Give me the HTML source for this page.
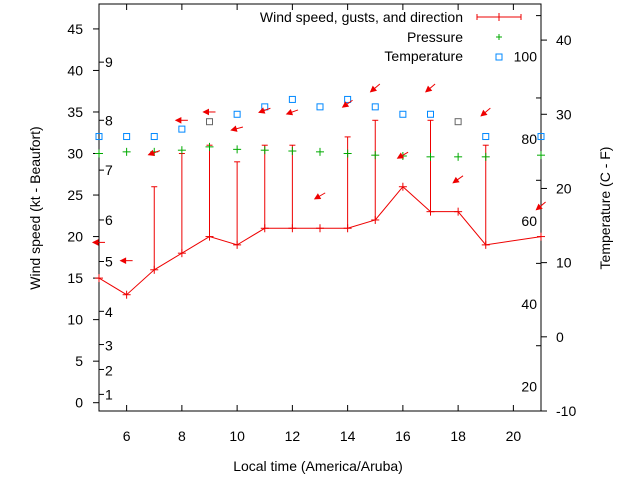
<!DOCTYPE html>
<html><head><meta charset="utf-8"><style>
html,body{margin:0;padding:0;background:#fff}
svg{display:block;font-family:"Liberation Sans",sans-serif}
</style></head><body>
<svg id="c" width="640" height="480" xmlns="http://www.w3.org/2000/svg">
<rect x="0" y="0" width="640" height="480" fill="#fff"/>
</svg>
<script>
const hours=[5,6,7,8,9,10,11,12,13,14,15,16,17,18,19,21];
const windSpeed=[15,13,16,18,20,19,21,21,21,21,22,26,23,23,19,20];
const gustHours=[7,8,9,10,11,12,14,15,17,19];
const gustValues=[26,30,31,29,31,31,32,34,34,31];
const pressure=[30,30.2,30.2,30.4,30.8,30.5,30.4,30.3,30.2,30,29.8,29.7,29.6,29.6,29.6,29.8];
const temperatureC=[27,27,27,28,29,30,31,32,31,32,31,30,30,29,27,27];
const arrowLevel=[19.3,17.1,30.1,34,35,33,35.2,35,24.9,36,37.9,29.8,37.9,26.9,35,23.7];
const arrowAngle=[180,180,200,180,180,195,200,200,210,215,220,210,220,215,220,220];
const xTicks=[6,8,10,12,14,16,18,20];
const yTicks=[0,5,10,15,20,25,30,35,40,45];
const tTicks=[-10,0,10,20,30,40];
const beaufortLabels=["1","2","3","4","5","6","7","8","9"];
const beaufortPos=[1,3.9,6.9,10.9,17,22,28,34,41];
const beaufortBounds=[1,4,7,11,17,22,28,34,41];
const fahrenheitLabels=["20","40","60","80","100"];
const fahrenheitPos=[-6.7,4.4,15.6,26.7,37.8];

const L=99,R=541,T=4,B=411;
const X=h=>L+(h-5)*(R-L)/16;
const Y=v=>B-(v+1)*(B-T)/49;
const YT=t=>B-(t+10)*(B-3)/55;
const svg=document.getElementById('c');
const NS='http://www.w3.org/2000/svg';
function mk(tag,a,p){const e=document.createElementNS(NS,tag);for(const k in a)e.setAttribute(k,a[k]);(p||svg).appendChild(e);return e;}
function txt(x,y,s,anchor,extra){const e=mk('text',Object.assign({x:x,y:y,'font-size':14,'text-anchor':anchor||'start',fill:'#000'},extra||{}));e.textContent=s;return e;}

const fr=mk('rect',{x:L,y:T,width:R-L,height:B-T,fill:'none',stroke:'#000','stroke-width':1});



xTicks.forEach(h=>{
  mk('line',{x1:X(h),x2:X(h),y1:B,y2:B-6,stroke:'#000'});
  mk('line',{x1:X(h),x2:X(h),y1:T,y2:T+6,stroke:'#000'});
  const t=txt(X(h),441,String(h),'middle');
  
  
});
yTicks.forEach(v=>{
  mk('line',{x1:L-6,x2:L,y1:Y(v),y2:Y(v),stroke:'#000'});
  const t=txt(83,Y(v)+5,String(v),'end');
  
  
});
beaufortBounds.forEach(v=>{
  mk('line',{x1:L,x2:L+5,y1:Y(v),y2:Y(v),stroke:'#000'});
});
tTicks.forEach(v=>{
  mk('line',{x1:R,x2:R+6,y1:YT(v),y2:YT(v),stroke:'#000'});
  const t=txt(556,YT(v)+5,String(v),'start');
  
  
});
beaufortLabels.forEach((s,i)=>{
  const t=txt(105,Y(beaufortPos[i])+5,s,'start');
  
  
});
fahrenheitLabels.forEach((s,i)=>{
  mk('line',{x1:R-5,x2:R,y1:YT(fahrenheitPos[i]+5.5),y2:YT(fahrenheitPos[i]+5.5),stroke:'#000'});
  const t=txt(537,YT(fahrenheitPos[i])+5,s,'end');
  
  
});

let t=txt(318,471,'Local time (America/Aruba)','middle');


t=txt(0,0,'Wind speed (kt - Beaufort)','middle',{transform:'translate(40,208) rotate(-90)'});


t=txt(0,0,'Temperature (C - F)','middle',{transform:'translate(610,208) rotate(-90)'});



gustHours.forEach((h,i)=>{
  const j=hours.indexOf(h);
  const g=mk('g',{stroke:'#e00','stroke-width':1});
  
  
  mk('line',{x1:X(h),x2:X(h),y1:Y(windSpeed[j]),y2:Y(gustValues[i])},g);
  mk('line',{x1:X(h)-3,x2:X(h)+3,y1:Y(gustValues[i]),y2:Y(gustValues[i])},g);
});
const wl=mk('polyline',{points:hours.map((h,i)=>X(h)+','+Y(windSpeed[i])).join(' '),fill:'none',stroke:'#e00','stroke-width':1});


hours.forEach((h,i)=>{
  const g=mk('g',{stroke:'#e00'});
  
  
  mk('line',{x1:X(h)-4,x2:X(h)+4,y1:Y(windSpeed[i]),y2:Y(windSpeed[i])},g);
  mk('line',{x1:X(h),x2:X(h),y1:Y(windSpeed[i])-4,y2:Y(windSpeed[i])+4},g);
});
hours.forEach((h,i)=>{
  const g=mk('g',{stroke:'#0a0'});
  
  
  const y=Y(pressure[i]);
  mk('line',{x1:X(h)-4,x2:X(h)+4,y1:y,y2:y},g);
  mk('line',{x1:X(h),x2:X(h),y1:y-4,y2:y+4},g);
});
hours.forEach((h,i)=>{
  const r=mk('rect',{x:X(h)-3,y:YT(temperatureC[i])-3,width:6,height:6,fill:'none',stroke:(h===9||h===18)?'#666':'#08f','stroke-width':1});
  
  
});
hours.forEach((h,i)=>{
  const a=arrowAngle[i]*Math.PI/180,len=12;
  const cx=X(h),cy=Y(arrowLevel[i]);
  const x1=cx-Math.cos(a)*len/2,y1=cy+Math.sin(a)*len/2;
  const x2=cx+Math.cos(a)*len/2,y2=cy-Math.sin(a)*len/2;
  const g=mk('g',{stroke:'#e00',fill:'#e00'});
  
  
  mk('line',{x1:x1,y1:y1,x2:x2,y2:y2},g);
  const bx=Math.cos(a),by=-Math.sin(a);
  const px=-by,py=bx;
  mk('polygon',{points:[x2+','+y2,(x2-bx*5+px*2.5)+','+(y2-by*5+py*2.5),(x2-bx*5-px*2.5)+','+(y2-by*5-py*2.5)].join(' ')},g);
});

const lg=mk('g',{});


t=txt(463,22,'Wind speed, gusts, and direction','end');lg.appendChild(t);
t=txt(463,42,'Pressure','end');lg.appendChild(t);
t=txt(463,61,'Temperature','end');lg.appendChild(t);
mk('line',{x1:477,x2:521,y1:17,y2:17,stroke:'#e00'},lg);
mk('line',{x1:477,x2:477,y1:14,y2:20,stroke:'#e00'},lg);
mk('line',{x1:521,x2:521,y1:14,y2:20,stroke:'#e00'},lg);
mk('line',{x1:499,x2:499,y1:13,y2:21,stroke:'#e00'},lg);
mk('line',{x1:496,x2:502,y1:37,y2:37,stroke:'#0a0'},lg);
mk('line',{x1:499,x2:499,y1:34,y2:40,stroke:'#0a0'},lg);
mk('rect',{x:496,y:54,width:6,height:6,fill:'none',stroke:'#08f'},lg);
</script>
</body></html>
